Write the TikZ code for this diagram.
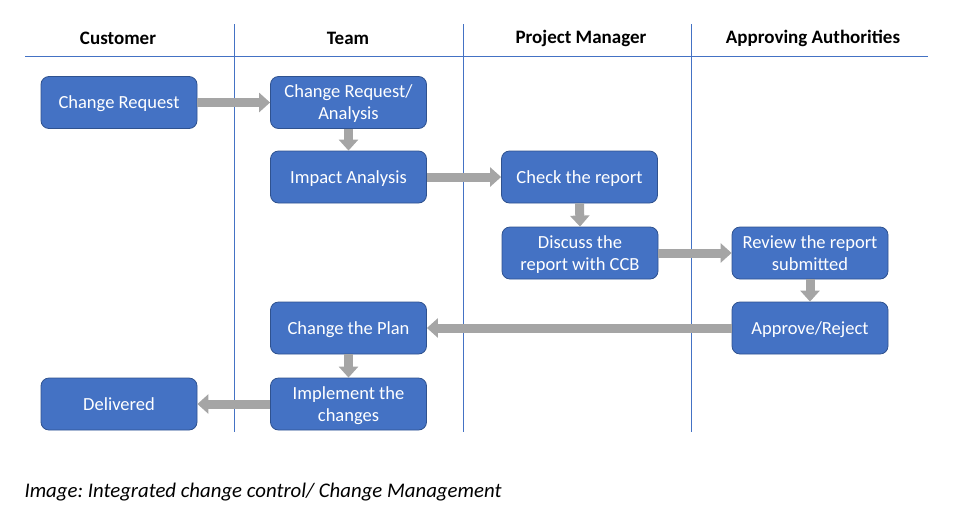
\documentclass[tikz,border=0pt]{standalone}
\usepackage{fontspec}
\setmainfont{Carlito}
\usetikzlibrary{arrows.meta}
\frenchspacing
\definecolor{boxfill}{RGB}{68,114,196}
\definecolor{boxline}{RGB}{47,82,143}
\definecolor{arrowgray}{RGB}{165,165,165}
\definecolor{laneline}{RGB}{68,114,196}
\tikzset{
  stepbox/.style={draw=boxline, line width=0.8pt, fill=boxfill, rounded corners=8pt,
    minimum width=156pt, minimum height=52pt, inner sep=0pt, text=white,
    align=center, font=\fontsize{18.5}{22}\selectfont, text depth=0.5pt},
  lanehead/.style={font=\bfseries\fontsize{19}{22}\selectfont, anchor=center},
  lane/.style={draw=laneline, line width=0.7pt},
  flow/.style={draw=arrowgray, line width=9pt, -{Triangle[length=11pt,width=19pt]}},
}
\begin{document}
\begin{tikzpicture}[x=1pt,y=-1pt]
\useasboundingbox (0,0) rectangle (965,509);
% lanes
\coordinate (hl) at (25,56);
\coordinate (hr) at (928,56);
\draw[lane] (hl) -- (hr);
\coordinate (v1t) at (234,24); \coordinate (v1b) at (234,432);
\coordinate (v2t) at (463,24); \coordinate (v2b) at (463,432);
\coordinate (v3t) at (691,24); \coordinate (v3b) at (691,432);
\draw[lane] (v1t) -- (v1b);
\draw[lane] (v2t) -- (v2b);
\draw[lane] (v3t) -- (v3b);
\node[lanehead] (h1) at (118,38) {Customer};
\node[lanehead] (h2) at (348,38) {Team};
\node[lanehead] (h3) at (581,38) {Project Manager};
\node[lanehead] (h4) at (813,38) {Approving Authorities};
% boxes
\node[stepbox] (cr) at (119,102.5) {Change Request};
\node[stepbox] (cra) at (348.5,102.5) {Change Request/\\Analysis};
\node[stepbox] (ia) at (348.5,177) {Impact Analysis};
\node[stepbox] (chk) at (579.5,177) {Check the report};
\node[stepbox] (dis) at (580,253) {Discuss the\\report with CCB};
\node[stepbox] (rev) at (810,253) {Review the report\\submitted};
\node[stepbox] (apr) at (810,328) {Approve/Reject};
\node[stepbox] (cp) at (348.5,328) {Change the Plan};
\node[stepbox] (imp) at (348.5,404) {Implement the\\changes};
\node[stepbox] (del) at (119,404) {Delivered};
% arrows
\draw[flow] (cr.east) -- (cra.west);
\draw[flow] (cra.south) -- (ia.north);
\draw[flow] (ia.east) -- (chk.west);
\draw[flow] (chk.south) -- (dis.north);
\draw[flow] (dis.east) -- (rev.west);
\draw[flow] (rev.south) -- (apr.north);
\draw[flow] (apr.west) -- (cp.east);
\draw[flow] (cp.south) -- (imp.north);
\draw[flow] (imp.west) -- (del.east);
% caption
\node[anchor=west, font=\itshape\fontsize{20.8}{24}\selectfont] (cap) at (21,492) {Image: Integrated change control/ Change Management};
\end{tikzpicture}
\end{document}
